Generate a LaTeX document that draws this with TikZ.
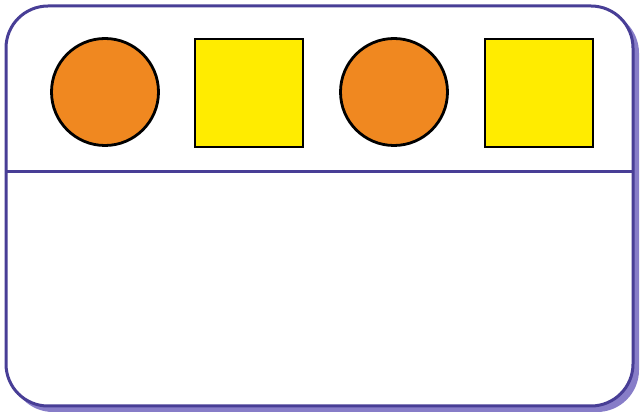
\documentclass[tikz,border=0pt]{standalone}
\usepackage{tikz}
\usepackage{xcolor}
\definecolor{violetbord}{RGB}{72, 62, 150}
\definecolor{violetombre}{RGB}{135, 125, 200}
\definecolor{orangevif}{RGB}{240, 136, 32}
\definecolor{jaunevif}{RGB}{255, 236, 0}

\tikzset{
  rond/.style={circle, draw=black, line width=2.8pt, fill=orangevif,
               minimum size=107pt, inner sep=0pt},
  carre/.style={rectangle, draw=black, line width=2.8pt, fill=jaunevif,
                minimum size=108pt, inner sep=0pt}
}

\begin{document}
\begin{tikzpicture}[x=1pt, y=-1pt]
  \useasboundingbox (0,0) rectangle (641,414);
  % ombre de la carte
  \fill[violetombre, rounded corners=42pt] (11,11) rectangle (639,412);
  % carte
  \draw[violetbord, line width=3pt, fill=white, rounded corners=42pt]
    (6,6) rectangle (633,406);
  \draw[violetbord, line width=3pt] (6,172) -- (633,172);
  % formes
  \node[rond]  (rond1)  at (105,92) {};
  \node[carre] (carre1) at (249,93) {};
  \node[rond]  (rond2)  at (394,92) {};
  \node[carre] (carre2) at (539,93) {};
\end{tikzpicture}
\end{document}
